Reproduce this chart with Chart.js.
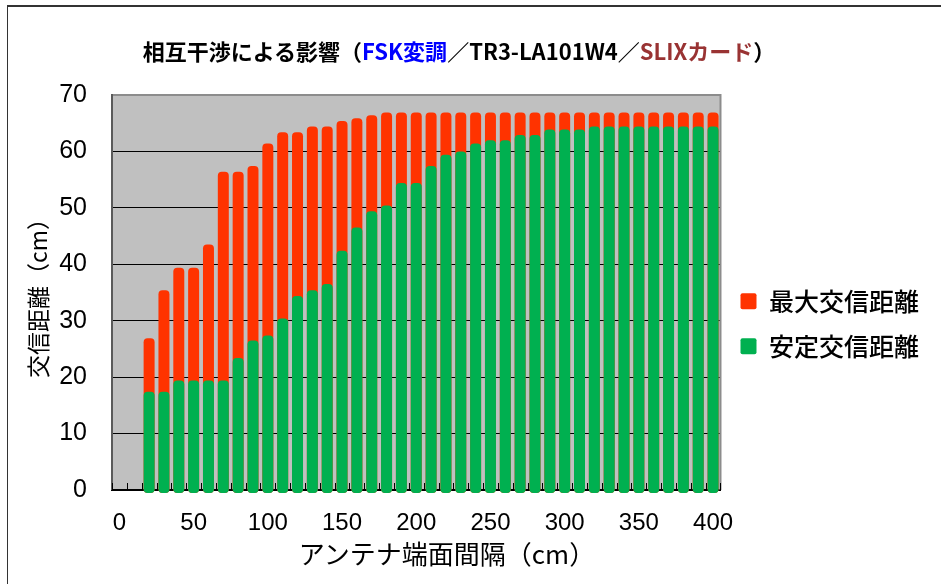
<!DOCTYPE html>
<html lang="ja">
<head>
<meta charset="utf-8">
<title>相互干渉による影響</title>
<script src="https://cdn.jsdelivr.net/npm/chart.js@4.4.1/dist/chart.umd.min.js"></script>
<style>
  html, body { margin: 0; padding: 0; background: #ffffff; }
  #wrap { position: relative; width: 941px; height: 584px; overflow: hidden; }
  #frame { position: absolute; left: 7px; top: 5px; right: -10px; bottom: -10px;
           border-left: 1px solid #333; border-top: 2px solid #333; }
  #title { position: absolute; left: 0; width: 918px; top: 37px; text-align: center;
           font: bold 22px "Noto Sans CJK JP", sans-serif; line-height: 26px; color: #000; white-space: nowrap; }
  #xtitle { position: absolute; left: 0; width: 894px; top: 538px; text-align: center;
            font: 26px "Noto Sans CJK JP", sans-serif; line-height: 30px; color: #000; white-space: nowrap; }
  #c { position: absolute; left: 0; top: 0; }
</style>
</head>
<body>
<div id="wrap">
  <div id="frame"></div>
  <canvas id="c" width="941" height="584"></canvas>
  <div id="title">相互干渉による影響（<span style="color:#0000ff">FSK変調</span>／TR3-LA101W4／<span style="color:#993333">SLIXカード</span>）</div>
  <div id="xtitle">アンテナ端面間隔（cm）</div>
</div>
<script>
// Antenna face-to-face spacing (cm)
const distanceLabels = ['0', '10', '20', '30', '40', '50', '60', '70', '80', '90',
  '100', '110', '120', '130', '140', '150', '160', '170', '180', '190',
  '200', '210', '220', '230', '240', '250', '260', '270', '280', '290',
  '300', '310', '320', '330', '340', '350', '360', '370', '380', '390', '400'];

// Maximum communication distance (cm)
const maxDistance = [null, null, 26.9, 35.4, 39.4, 39.4, 43.5, 56.4, 56.4, 57.4,
  61.4, 63.4, 63.4, 64.4, 64.4, 65.4, 65.9, 66.4, 66.9, 66.9,
  66.9, 66.9, 66.9, 66.9, 66.9, 66.9, 66.9, 66.9, 66.9, 66.9,
  66.9, 66.9, 66.9, 66.9, 66.9, 66.9, 66.9, 66.9, 66.9, 66.9, 66.9];

// Stable communication distance (cm)
const stableDistance = [null, null, 17.4, 17.4, 19.4, 19.4, 19.4, 19.4, 23.4, 26.5,
  27.4, 30.4, 34.4, 35.4, 36.5, 42.4, 46.5, 49.4, 50.4, 54.4,
  54.4, 57.4, 59.4, 60.0, 61.4, 62.0, 62.0, 62.9, 62.9, 63.9,
  63.9, 63.9, 64.4, 64.4, 64.4, 64.4, 64.4, 64.4, 64.4, 64.4, 64.4];

// Labels shown on the horizontal axis
const xTickLabels = ['0', '50', '100', '150', '200', '250', '300', '350', '400'];

const seriesNames = ['最大交信距離', '安定交信距離'];
const yAxisTitle = '交信距離（cm）';

const RED = '#ff3300';
const GREEN = '#00b050';
const PLOT_BG = '#c0c0c0';

Chart.defaults.color = '#000';

// Grey plot background and frame around the plot area
const plotFrame = {
  id: 'plotFrame',
  beforeDraw(chart) {
    const { ctx, chartArea: a } = chart;
    ctx.save();
    ctx.fillStyle = PLOT_BG;
    ctx.fillRect(a.left, a.top, a.right - a.left, a.bottom - a.top);
    ctx.restore();
  },
  afterDraw(chart) {
    const { ctx, chartArea: a } = chart;
    ctx.save();
    ctx.lineWidth = 2;
    ctx.strokeStyle = '#8c8c8c';
    ctx.beginPath();
    ctx.moveTo(a.left, a.top);
    ctx.lineTo(a.right, a.top);
    ctx.lineTo(a.right, a.bottom);
    ctx.stroke();
    ctx.strokeStyle = '#5a5a5a';
    ctx.beginPath();
    ctx.moveTo(a.left, a.top - 1);
    ctx.lineTo(a.left, a.bottom);
    ctx.stroke();
    // short inward tick marks on the category boundaries
    const xs = chart.scales.x;
    const n = xs.getLabels().length;
    const half = (xs.getPixelForValue(1) - xs.getPixelForValue(0)) / 2;
    ctx.lineWidth = 1;
    ctx.strokeStyle = '#000';
    ctx.beginPath();
    for (let i = 0; i <= n; i++) {
      const px = Math.round(xs.getPixelForValue(i) - half) + 0.5;
      ctx.moveTo(px, a.bottom);
      ctx.lineTo(px, a.bottom - 7);
    }
    ctx.stroke();
    ctx.restore();
  }
};

const tickFont = { family: "'Liberation Sans', Arial, sans-serif", size: 24 };

new Chart(document.getElementById('c'), {
  type: 'bar',
  data: {
    labels: distanceLabels,
    datasets: [
      {
        label: seriesNames[0],
        data: maxDistance,
        backgroundColor: RED,
        order: 2
      },
      {
        label: seriesNames[1],
        data: stableDistance,
        backgroundColor: GREEN,
        order: 1
      }
    ]
  },
  options: {
    responsive: false,
    animation: false,
    layout: { padding: { top: 95, right: 12, bottom: 0, left: 0 } },
    datasets: {
      bar: {
        grouped: false,
        categoryPercentage: 1,
        barPercentage: 0.74,
        borderRadius: 4,
        borderSkipped: false,
        base: -0.55,
        clip: false
      }
    },
    scales: {
      x: {
        type: 'category',
        z: 1,
        grid: { display: false, drawTicks: false },
        border: { display: true, color: '#000', width: 2 },
        ticks: {
          autoSkip: false,
          maxRotation: 0,
          padding: 19,
          color: '#000',
          font: tickFont,
          callback(value) {
            const lab = this.getLabelForValue(value);
            return xTickLabels.includes(lab) ? lab : '';
          }
        },
        afterFit(scale) { scale.height = 94; }
      },
      y: {
        min: 0,
        max: 70,
        ticks: { stepSize: 10, padding: 25, color: '#000', font: { ...tickFont, size: 25 } },
        grid: {
          drawTicks: false,
          lineWidth: 1,
          color: (c) => (c.tick && (c.tick.value === 0 || c.tick.value === 70)) ? 'rgba(0,0,0,0)' : '#000'
        },
        border: { display: false },
        title: {
          display: true,
          text: yAxisTitle,
          color: '#000',
          font: { family: "'Noto Sans CJK JP', sans-serif", size: 23 },
          padding: { top: 24, bottom: 0 }
        },
        afterFit(scale) { scale.width = 112; }
      }
    },
    plugins: {
      title: { display: false },
      tooltip: { enabled: false },
      legend: {
        position: 'right',
        fullSize: false,
        title: { display: true, text: '', font: { size: 12 }, padding: { top: 24, bottom: 24 } },
        labels: {
          boxWidth: 16,
          boxHeight: 16,
          useBorderRadius: true,
          borderRadius: 2,
          padding: 20,
          color: '#000000',
          font: { family: "'Noto Sans CJK JP', sans-serif", size: 25, weight: '500' },
          sort: (a, b) => a.datasetIndex - b.datasetIndex,
          generateLabels(chart) {
            return chart.data.datasets.map((ds, i) => ({
              text: ds.label,
              fillStyle: ds.backgroundColor,
              strokeStyle: ds.backgroundColor,
              fontColor: '#000000',
              lineWidth: 0,
              hidden: false,
              datasetIndex: i,
              borderRadius: 2
            }));
          }
        }
      }
    }
  },
  plugins: [plotFrame]
});
</script>
</body>
</html>
